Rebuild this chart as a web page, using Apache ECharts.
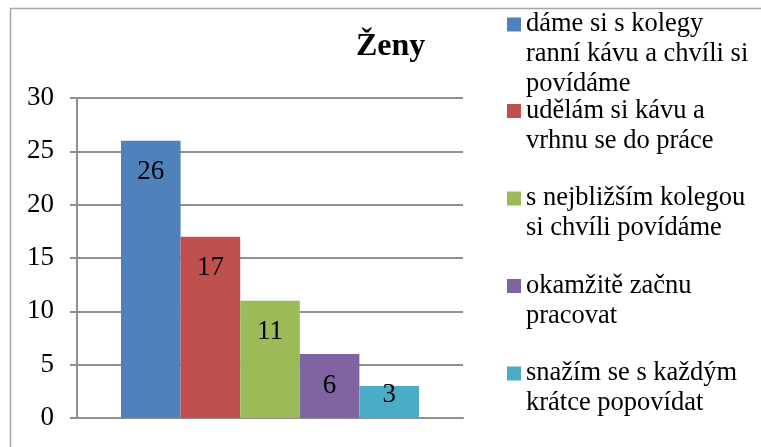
<!DOCTYPE html>
<html>
<head>
<meta charset="utf-8">
<script src="https://cdn.jsdelivr.net/npm/echarts@6/dist/echarts.min.js"></script>
<style>
html,body{margin:0;padding:0;background:#fff;}
#c{width:761px;height:447px;}
</style>
</head>
<body>
<div id="c"></div>
<script>
const titleText = 'Ženy';
const categories = [''];
const seriesNames = [
  'dáme si s kolegy\nranní kávu a chvíli si\npovídáme',
  'udělám si kávu a\nvrhnu se do práce',
  's nejbližším kolegou\nsi chvíli povídáme',
  'okamžitě začnu\npracovat',
  'snažím se s každým\nkrátce popovídat'
];
const seriesValues = [26, 17, 11, 6, 3];
const yTicks = [0, 5, 10, 15, 20, 25, 30];

const colors = ['#4F81BD', '#C0504D', '#9BBB59', '#8064A2', '#4BACC6'];
const legendTops = [9.5, 96, 183.5, 271, 358.5];
const labelDistances = [18, 18, 18, 18, -5];
const serif = '"Liberation Serif", "Times New Roman", serif';
const gray = '#8f8f8f';

const chart = echarts.init(document.getElementById('c'));

const legends = seriesNames.map((name, i) => {
  const lines = name.split('\n').length;
  const H = lines * 30;
  return {
    orient: 'vertical',
    left: 507,
    top: legendTops[i],
    padding: 0,
    itemWidth: 14,
    itemHeight: H,
    selectedMode: false,
    icon: 'path://M0,0L0,0M0,8L14,8L14,22L0,22ZM14,' + H + 'L14,' + H,
    textStyle: {fontFamily: serif, fontSize: 26.5, lineHeight: 30, color: '#000'},
    data: [name]
  };
});

chart.setOption({
  animation: false,
  color: colors,
  title: {
    text: titleText,
    left: 356,
    top: 31,
    padding: 0,
    textStyle: {fontFamily: serif, fontSize: 32, fontWeight: 'bold', color: '#000'}
  },
  legend: legends,
  graphic: [{
    type: 'rect',
    shape: {x: 10.5, y: 8.5, width: 800, height: 500},
    style: {fill: 'none', stroke: '#a6a6a6', lineWidth: 1.5},
    silent: true,
    z: -10
  }],
  grid: {left: 77, right: 298, top: 98, bottom: 29},
  xAxis: {
    type: 'category',
    data: categories,
    axisLine: {show: true, lineStyle: {color: gray, width: 2}},
    axisTick: {show: false},
    axisLabel: {show: false}
  },
  yAxis: {
    type: 'value',
    min: yTicks[0],
    max: yTicks[yTicks.length - 1],
    interval: yTicks[1] - yTicks[0],
    axisLine: {show: true, lineStyle: {color: gray, width: 2}},
    axisTick: {show: true, length: 7, lineStyle: {color: gray, width: 2}},
    splitLine: {show: true, lineStyle: {color: gray, width: 2}},
    axisLabel: {margin: 23, fontFamily: serif, fontSize: 27, color: '#000'}
  },
  series: seriesNames.map((name, i) => ({
    type: 'bar',
    name: name,
    data: [seriesValues[i]],
    barGap: '0%',
    barCategoryGap: '22.8%',
    itemStyle: {color: colors[i]},
    label: {
      show: true,
      position: 'insideTop',
      distance: labelDistances[i],
      fontFamily: serif,
      fontSize: 27,
      color: '#000'
    }
  }))
});
</script>
</body>
</html>
